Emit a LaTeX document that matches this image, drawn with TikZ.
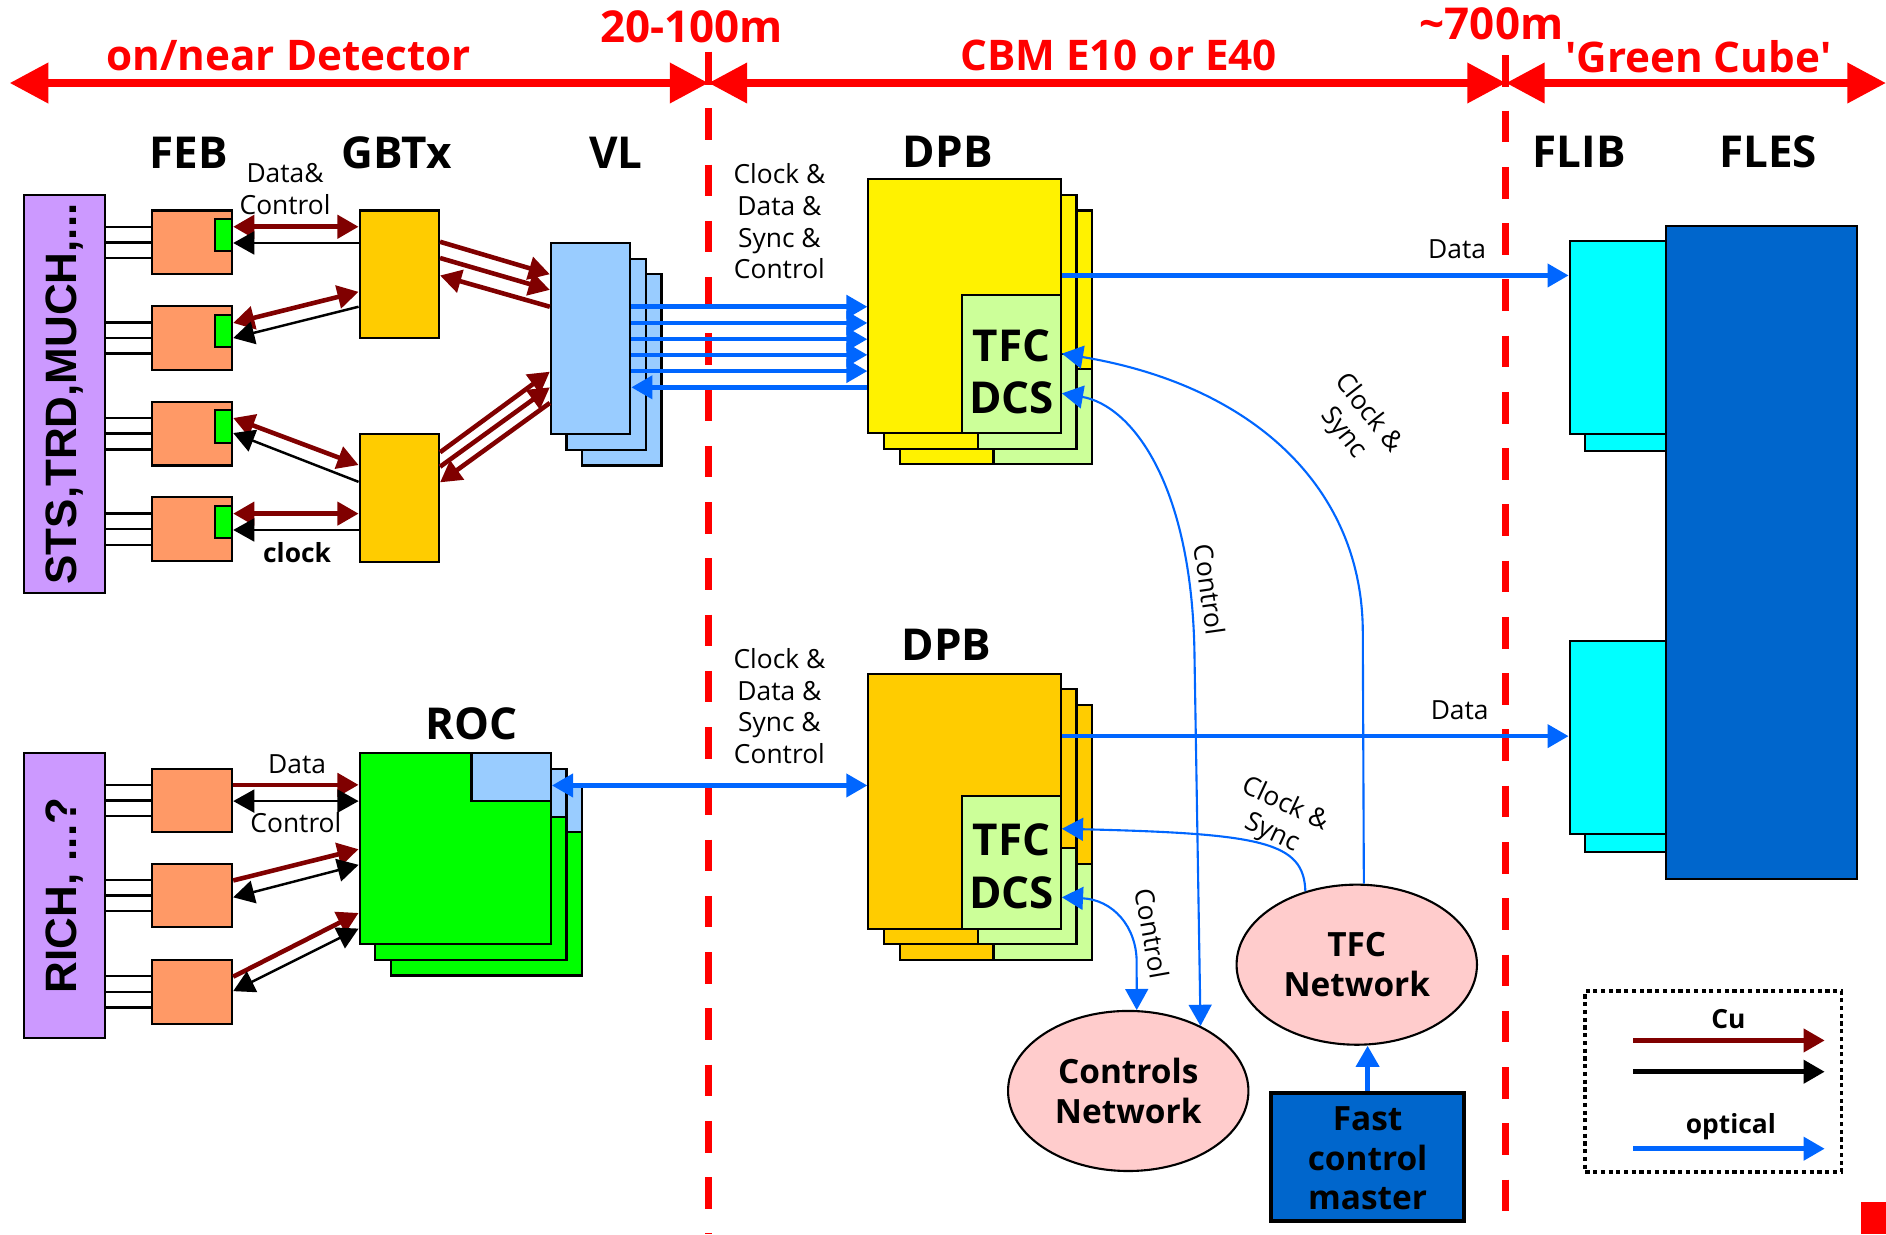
\documentclass[tikz,border=0pt]{standalone}
\usepackage{fontspec}
\setmainfont{Open Sans}
\setsansfont{Liberation Sans}
\usepackage{xcolor}
\usepackage{tikz}
\usetikzlibrary{shapes,arrows.meta,positioning,calc,fit}

\definecolor{cured}{HTML}{800000}
\definecolor{optblue}{HTML}{0066FF}
\definecolor{zonered}{HTML}{FF0000}
\definecolor{purp}{HTML}{CC99FF}
\definecolor{febor}{HTML}{FF9966}
\definecolor{gbtgold}{HTML}{FFCC00}
\definecolor{vlblue}{HTML}{99CCFF}
\definecolor{tfcgreen}{HTML}{CCFF99}
\definecolor{rocgreen}{HTML}{00FF00}
\definecolor{flibcyan}{HTML}{00FFFF}
\definecolor{flesblue}{HTML}{0066CC}
\definecolor{netpink}{HTML}{FFCCCC}

\tikzset{
  >={Triangle[length=6pt,width=6.5pt]},
  box/.style={draw, line width=0.6pt, inner sep=0pt},
  hdr/.style={font=\fontsize{12.5}{14}\selectfont\bfseries},
  lbl/.style={font=\fontsize{7.5}{9}\selectfont, align=center, inner sep=1pt},
  blbl/.style={lbl, font=\fontsize{7.5}{9}\selectfont\bfseries},
  zlbl/.style={text=zonered, inner sep=0pt, font=\fontsize{12}{14}\selectfont\bfseries},
  zbig/.style={text=zonered, inner sep=0pt, font=\fontsize{12.5}{14}\selectfont\bfseries},
  zone/.style={draw=zonered, line width=2.3pt, >={Triangle[length=11pt,width=11pt]}},
  sep/.style={draw=zonered, line width=2pt, dash pattern=on 9pt off 7pt},
  cu/.style={draw=cured, line width=1.3pt},
  wire/.style={draw=black, line width=0.7pt},
  opt/.style={draw=optblue, line width=1.3pt},
  optthin/.style={draw=optblue, line width=0.6pt},
  tfc/.style={font=\fontsize{12.5}{15}\selectfont\bfseries, align=center, inner sep=0pt},
  net/.style={ellipse, draw, fill=netpink, line width=0.6pt, minimum width=2.4cm,
    minimum height=1.6cm, align=center, font=\fontsize{9.5}{11.3}\selectfont\bfseries},
  side/.style={rotate=90, font=\sffamily\bfseries\fontsize{12.5}{14}\selectfont},
}

\begin{document}
\begin{tikzpicture}[x=0.012028cm, y=-0.012028cm]
    \useasboundingbox (0,0) rectangle (1568,1026);

    % zone boundaries and ranges
    \draw[sep] (589,90) -- (589,1026);
    \draw[sep] (1252,92) -- (1252,1026);
    \draw[zonered, line width=2pt] (589,43) -- (589,71);
    \draw[zonered, line width=2pt] (1252,46) -- (1252,72);
    \coordinate (b0) at (8,69);
    \coordinate (b1) at (589,69);
    \coordinate (b2) at (1252,69);
    \coordinate (b3) at (1568,69);
    \draw[zone,<->] (b0) -- (b1);
    \draw[zone,<->] (b1) -- (b2);
    \draw[zone,<->] (b2) -- (b3);
    \node[zlbl] (zdet) at (240,46) {on/near Detector};
    \node[zbig] (zmid) at (575,22) {20-100m};
    \node[zlbl] (zcbm) at (930,46) {CBM E10 or E40};
    \node[zbig] (zfar) at (1240,20) {\textasciitilde700m};
    \node[zlbl] (zgc) at (1412,47) {\textquotesingle Green Cube\textquotesingle};

    % column headers
    \node[hdr] (hfeb) at (157,127) {FEB};
    \node[hdr] (hgbt) at (330,127) {GBTx};
    \node[hdr] (hvl) at (512,127) {VL};
    \node[hdr] (hdpbA) at (788,126) {DPB};
    \node[hdr] (hdpbB) at (787,536) {DPB};
    \node[hdr] (hroc) at (392,602) {ROC};
    \node[hdr] (hflib) at (1313,126) {FLIB};
    \node[hdr] (hfles) at (1470,126) {FLES};

    % detectors
    \node[box, fill=purp, fit={(20,162) (87,493)}] (sts) {};
    \node[side] (stst) at (sts.center) {STS,TRD,MUCH,...};
    \node[box, fill=purp, fit={(20,626) (87,863)}] (rich) {};
    \node[side] (richt) at (rich.center) {RICH, ...?};

    % front end boards
    \foreach \i/\yc in {1/201.5,2/281,3/360.5,4/440}
    {
        \node[box, fill=febor, fit={(126,\yc-26.5) (193,\yc+26.5)}] (feb\i) {};
        \node[box, fill=rocgreen, fit={(179,\yc-19.5) (193,\yc+7.5)}] (gx\i) {};
        \foreach \dy in {-13,0,13}
            \draw[wire] (sts.east |- 0,\yc+\dy) -- (feb\i.west |- 0,\yc+\dy);
    }
    \foreach \i/\yc in {1/665.5,2/744.5,3/824.5}
    {
        \node[box, fill=febor, fit={(126,\yc-26.5) (193,\yc+26.5)}] (rfeb\i) {};
        \foreach \dy in {-13,0,13}
            \draw[wire] (rich.east |- 0,\yc+\dy) -- (rfeb\i.west |- 0,\yc+\dy);
    }

    % GBTx and VL
    \node[box, fill=gbtgold, fit={(299,175) (365,281)}] (gbtA) {};
    \node[box, fill=gbtgold, fit={(299,361) (365,467)}] (gbtB) {};
    \foreach \n in {2,1,0}
        \node[box, fill=vlblue, fit={(458+13*\n,202+13*\n) (524+13*\n,361+13*\n)}] (vl\n) {};

    % ROC stack
    \foreach \n in {2,1,0}
    {
        \node[box, fill=rocgreen, fit={(299+13*\n,626+13*\n) (458+13*\n,785+13*\n)}] (roc\n) {};
        \node[box, fill=vlblue, fit={(392+13*\n,626+13*\n) (458+13*\n,666+13*\n)}] (rocl\n) {};
    }

    % DPB stacks
    \foreach \n in {2,1}
    {
        \node[box, fill=yellow, fit={(722+13*\n,149+13*\n) (882+13*\n,360+13*\n)}] (dpbA\n) {};
        \node[box, fill=tfcgreen, fit={(800+13*\n,281+13*\n) (882+13*\n,360+13*\n)}] (tfcA\n) {};
        \node[box, fill=gbtgold, fit={(722+13*\n,560+13*\n) (882+13*\n,772+13*\n)}] (dpbB\n) {};
        \node[box, fill=tfcgreen, fit={(800+13*\n,692+13*\n) (882+13*\n,772+13*\n)}] (tfcB\n) {};
    }
    \node[box, fill=yellow, fit={(722,149) (882,360)}] (dpbA) {};
    \node[box, fill=tfcgreen, fit={(800,245) (882,360)}] (tfcA) {};
    \node[tfc] (tfcAt) at (841,309) {TFC\\DCS};
    \node[box, fill=gbtgold, fit={(722,560) (882,772)}] (dpbB) {};
    \node[box, fill=tfcgreen, fit={(800,662) (882,772)}] (tfcB) {};
    \node[tfc] (tfcBt) at (841,720) {TFC\\DCS};

    % FLIB and FLES
    \node[box, fill=flibcyan, fit={(1318,214) (1398,375)}] (flibA1) {};
    \node[box, fill=flibcyan, fit={(1305,200) (1385,361)}] (flibA) {};
    \node[box, fill=flibcyan, fit={(1318,547) (1398,708)}] (flibB1) {};
    \node[box, fill=flibcyan, fit={(1305,533) (1385,693)}] (flibB) {};
    \node[box, fill=flesblue, fit={(1385,188) (1544,731)}] (fles) {};

    % networks
    \node[net] (ctrlnet) at (938,907) {Controls\\Network};
    \node[net] (tfcnet) at (1128,802) {TFC\\Network};
    \node[box, fill=flesblue, line width=1.2pt, fit={(1057,909) (1217,1015)}] (fcm) {};
    \node[align=center, inner sep=0pt, font=\fontsize{9.5}{11.3}\selectfont\bfseries]
        (fcmt) at (1137,963) {Fast\\control\\master};

    % FEB <-> GBTx
    \draw[cu,<->] (feb1.east |- 0,188.5) -- (gbtA.west |- 0,188.5);
    \draw[wire,->] (gbtA.west |- 0,202) -- (feb1.east |- 0,202);
    \draw[cu,<->] (feb2.east |- 0,268.5) -- (gbtA.west |- 0,242.6);
    \draw[wire,->] (gbtA.west |- 0,255) -- (feb2.east |- 0,281);
    \draw[cu,<->] (feb3.east |- 0,347.5) -- (gbtB.west |- 0,386.6);
    \draw[wire,->] (gbtB.west |- 0,400.6) -- (feb3.east |- 0,360);
    \draw[cu,<->] (feb4.east |- 0,427) -- (gbtB.west |- 0,427);
    \draw[wire,->] (gbtB.west |- 0,440.6) -- (feb4.east |- 0,440.6);
    \node[lbl] (ldc) at (237,157) {Data\&\\Control};
    \node[blbl] (lclk) at (247,459) {clock};

    % GBTx <-> VL
    \draw[cu,->] (gbtA.east |- 0,201) -- (vl0.west |- 0,228);
    \draw[cu,->] (gbtA.east |- 0,214.5) -- (vl0.west |- 0,241);
    \draw[cu,->] (vl0.west |- 0,255) -- (gbtA.east |- 0,229);
    \draw[cu,->] (gbtB.east |- 0,376) -- (vl0.west |- 0,309);
    \draw[cu,->] (gbtB.east |- 0,388) -- (vl0.west |- 0,322);
    \draw[cu,->] (vl0.west |- 0,335) -- (gbtB.east |- 0,401);

    % VL <-> DPB optical links
    \foreach \y in {255,268.5,282,295,308.5}
        \draw[opt,->] (vl0.east |- 0,\y) -- (dpbA.west |- 0,\y);
    \draw[opt,->] (dpbA.west |- 0,322) -- (vl0.east |- 0,322);
    \node[lbl] (lvl) at (648,184) {Clock \&\\Data \&\\Sync \&\\Control};

    % RICH FEB <-> ROC
    \draw[cu,->] (rfeb1.east |- 0,652.5) -- (roc0.west |- 0,652.5);
    \draw[wire,<->] (rfeb1.east |- 0,666) -- (roc0.west |- 0,666);
    \draw[cu,->] (rfeb2.east |- 0,732) -- (roc0.west |- 0,706);
    \draw[wire,<->] (rfeb2.east |- 0,746) -- (roc0.west |- 0,719);
    \draw[cu,->] (rfeb3.east |- 0,812) -- (roc0.west |- 0,759);
    \draw[wire,<->] (rfeb3.east |- 0,824) -- (roc0.west |- 0,772);
    \node[lbl] (lrd) at (247,635) {Data};
    \node[lbl] (lrc) at (246,684) {Control};

    % ROC <-> DPB
    \draw[opt,<->] (rocl0.east |- 0,653) -- (dpbB.west |- 0,653);
    \node[lbl] (lroc) at (648,587) {Clock \&\\Data \&\\Sync \&\\Control};

    % DPB -> FLIB
    \draw[opt,->] (dpbA.east |- 0,229) -- (flibA.west |- 0,229)
        node[lbl, pos=0.78, above=3pt] (ldA) {Data};
    \draw[opt,->] (dpbB.east |- 0,612) -- (flibB.west |- 0,612)
        node[lbl, pos=0.785, above=3pt] (ldB) {Data};

    % timing and control
    \draw[optthin,->] (tfcnet.85) -- (1133,524) .. controls (1132,404) and (1040,320) .. ($(tfcA.east)+(0,-8.5)$);
    \node[lbl, rotate=-52] (lcsA) at (1127,352) {Clock \&\\Sync};
    \draw[optthin,<->] ($(tfcA.east)+(0,24.5)$) .. controls (940,337) and (990,400) .. (993,540) -- (ctrlnet.42);
    \node[lbl, rotate=-82] (lctA) at (1006,490) {Control};
    \draw[optthin,->] (tfcnet.125) .. controls (1084,700) and (1050,693) .. ($(tfcB.east)+(0,-28)$);
    \node[lbl, rotate=-25] (lcsB) at (1063,681) {Clock \&\\Sync};
    \draw[optthin,<->] ($(tfcB.east)+(0,29)$) .. controls (925,748) and (945,770) .. (945,800) -- (ctrlnet.84);
    \node[lbl, rotate=-80] (lctB) at (958,776) {Control};
    \draw[opt,->] (fcm.north) -- (fcm.north |- tfcnet.south);

    % legend
    \node[draw, line width=1.1pt, dash pattern=on 1.2pt off 1pt, inner sep=0pt,
          fit={(1318,824) (1531,974)}] (legend) {};
    \coordinate (lcu0) at (1358,865);
    \coordinate (lcu1) at (1517,865);
    \coordinate (lbk0) at (1358,891);
    \coordinate (lbk1) at (1517,891);
    \coordinate (lop0) at (1358,955);
    \coordinate (lop1) at (1517,955);
    \draw[cu,->] (lcu0) -- (lcu1);
    \draw[wire, line width=1.3pt,->] (lbk0) -- (lbk1);
    \draw[opt,->] (lop0) -- (lop1);
    \node[blbl] (lcu) at (1437,847) {Cu};
    \node[blbl] (lop) at (1439,937) {optical};

    % corner mark
    \fill[zonered] (1547,999) rectangle (1568,1026);
\end{tikzpicture}
\end{document}
